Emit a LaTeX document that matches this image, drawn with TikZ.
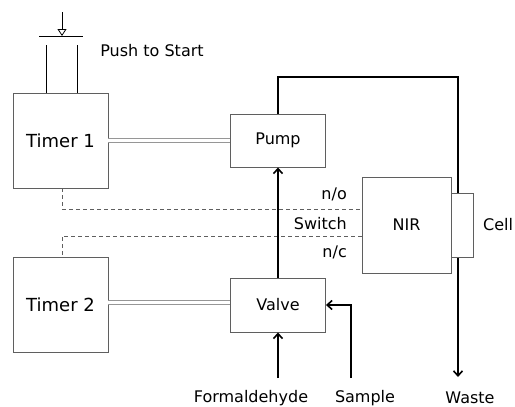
\documentclass[tikz,border=0pt]{standalone}
\usepackage{fontspec}
\setmainfont{DejaVu Sans}
\usepackage{tikz}
\usetikzlibrary{arrows.meta,positioning,calc}
\usepackage{xcolor}
\definecolor{boxgrey}{RGB}{95,95,95}
\definecolor{linkgrey}{RGB}{150,150,150}
\begin{document}
\begin{tikzpicture}[x=1pt, y=-1pt, font=\fontsize{16}{18}\selectfont,
    box/.style={draw=boxgrey, line width=0.9pt, fill=white, inner sep=0pt},
    timer/.style={box, minimum width=95pt, minimum height=95pt, font=\fontsize{18}{20}\selectfont},
    unit/.style={box, minimum width=95pt, minimum height=53pt},
    flow/.style={-{Straight Barb[length=5pt,width=9pt]}, line width=1.6pt},
    link/.style={draw=linkgrey, double=white, double distance=3pt, line width=0.9pt},
    sw/.style={draw=boxgrey, line width=0.7pt, dash pattern=on 4pt off 3pt},
    lbl/.style={inner sep=0pt}]
\useasboundingbox (0,0) rectangle (515,407);
\node[timer] (t1) at (60.5,140.5) {Timer 1};
\node[timer] (t2) at (60.5,304.5) {Timer 2};
\node[unit] (pump) at (278,140.5) {Pump};
\node[unit, minimum height=54pt] (valve) at (278,305) {Valve};
% push button
\coordinate (btn) at (62,12);
\coordinate (bar) at (62,36);
\draw[-{Triangle[open,length=7pt,width=9pt]}, line width=0.8pt] (btn) -- (bar);
\draw[line width=0.8pt] ($(bar)+(-23,0)$) -- ($(bar)+(21,0)$);
\draw[line width=0.8pt] (46,45) -- (46,93);
\draw[line width=0.8pt] (77,45) -- (77,93);
\node[lbl] (push) at (152,51) {Push to Start};
% timer links
\draw[link] (t1.east) -- (pump.west);
\draw[link] (t2.east |- 0,302.5) -- (valve.west |- 0,302.5);
% waste line
\coordinate (waste) at (458,377);
\draw[flow] (pump.north) -- (278,77) -- (458,77) -- (waste);
\node[box, minimum width=89pt, minimum height=96pt] (nir) at (406.5,225) {NIR};
\node[box, minimum width=22pt, minimum height=64pt] (cell) at (462,225) {};
\node[lbl, anchor=west] (celltxt) at (483,225) {Cell};
% switch
\draw[sw] (t1.south -| 62,0) -- (62,209) -- (nir.west |- 0,209);
\draw[sw] (nir.west |- 0,236) -- (62,236) -- (t2.north -| 62,0);
\node[lbl, anchor=east] (no) at (347,194) {n/o};
\node[lbl, anchor=east] (switch) at (347,224) {Switch};
\node[lbl, anchor=east] (nc) at (347,252) {n/c};
% flows
\coordinate (form) at (278,378);
\coordinate (samp) at (351,378);
\draw[flow] (valve) -- (pump);
\draw[flow] (form) -- (valve);
\draw[flow] (samp) |- (valve.east);
\node[lbl] (formtxt) at (251,398) {Formaldehyde};
\node[lbl] (samptxt) at (365,398) {Sample};
\node[lbl] (wastetxt) at (470,398) {Waste};
\end{tikzpicture}
\end{document}
